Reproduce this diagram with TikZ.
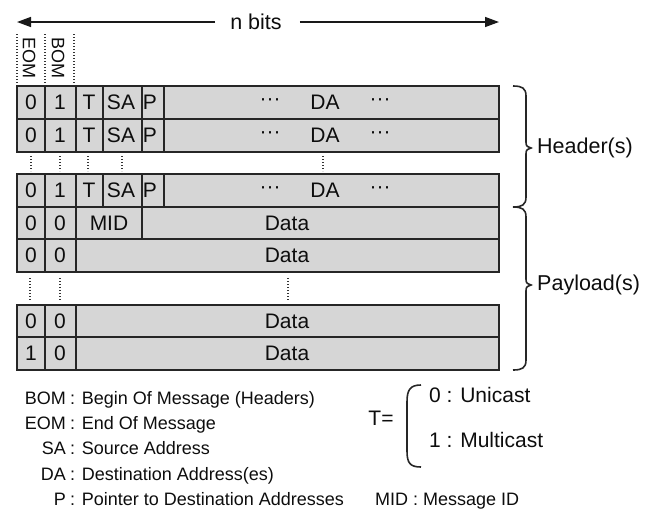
\documentclass[tikz,border=0pt]{standalone}
\usepackage{fontspec}
\setmainfont{Liberation Sans}
\usetikzlibrary{arrows.meta}
\begin{document}
\begin{tikzpicture}[x=1pt,y=-1pt,
  rowbox/.style={draw=black!85,fill=black!16,line width=1.6pt},
  divider/.style={draw=black!85,line width=1.6pt},
  dotline/.style={draw=black!80,line width=1.7pt,dash pattern=on 1.4pt off 1.6pt},
  cell/.style={inner sep=0pt,font=\fontsize{21}{24}\selectfont,text=black!95},
  bitlbl/.style={inner sep=0pt,font=\fontsize{18}{20}\selectfont,rotate=-90,text=black!95},
  side/.style={inner sep=0pt,anchor=west,font=\fontsize{21.5}{24}\selectfont,text=black!95},
  legk/.style={inner sep=0pt,anchor=mid east,font=\fontsize{18}{21}\selectfont,text=black!95},
  legv/.style={inner sep=0pt,anchor=mid west,font=\fontsize{18}{21}\selectfont,text=black!95},
  tval/.style={inner sep=0pt,anchor=mid west,font=\fontsize{21}{24}\selectfont,text=black!95},
  bracket/.style={draw=black!85,line width=1.6pt},
  arr/.style={draw=black!90,line width=1.4pt,-{Triangle[length=14pt,width=10pt]}},
]
\useasboundingbox (0,0) rectangle (655,515);

% n bits arrow
\coordinate (aL) at (17,22);
\coordinate (aR) at (499,22);
\node[cell,font=\fontsize{21.5}{24}\selectfont] (nb) at (256,22) {n bits};
\draw[arr] ([xshift=-15pt]nb.west) -- (aL);
\draw[arr] ([xshift=18pt]nb.east) -- (aR);

% EOM / BOM labels
\draw[dotline] (17,34) -- (17,85);
\draw[dotline] (45,34) -- (45,85);
\draw[dotline] (74,34) -- (74,85);
\node[bitlbl] (eom) at (29,58) {EOM};
\node[bitlbl] (bom) at (58,58) {BOM};

% header rows
\foreach \t/\b in {86/119,119/152,174/207}{
  \draw[rowbox] (17,\t) rectangle (499,\b);
  \foreach \x in {45,76,103,142,164}{\draw[divider] (\x,\t) -- (\x,\b);}
}
% payload rows
\draw[rowbox] (17,207) rectangle (499,239);
\foreach \x in {45,76,142}{\draw[divider] (\x,207) -- (\x,239);}
\foreach \t/\b in {239/272,305/337,337/370}{
  \draw[rowbox] (17,\t) rectangle (499,\b);
  \foreach \x in {45,76}{\draw[divider] (\x,\t) -- (\x,\b);}
}

% header texts
\foreach \c/\n in {102.5/a,135.5/b,190.5/c}{
  \node[cell] (e\n) at (31,\c) {0};
  \node[cell] (b\n) at (60,\c) {1};
  \node[cell] (t\n) at (89,\c) {T};
  \node[cell] (sa\n) at (121,\c) {SA};
  \node[cell] (p\n) at (150,\c) {P};
  \node[cell] (dl\n) at (270,\c) {···};
  \node[cell] (da\n) at (325,\c) {DA};
  \node[cell] (dr\n) at (380,\c) {···};
}
% payload texts
\node[cell] (e4) at (31,223) {0};
\node[cell] (b4) at (60,223) {0};
\node[cell] (mid) at (109,223) {MID};
\node[cell] (d4) at (287,223) {Data};
\node[cell] (e5) at (31,255.5) {0};
\node[cell] (b5) at (60,255.5) {0};
\node[cell] (d5) at (287,255.5) {Data};
\node[cell] (e6) at (31,321) {0};
\node[cell] (b6) at (60,321) {0};
\node[cell] (d6) at (287,321) {Data};
\node[cell] (e7) at (31,353.5) {1};
\node[cell] (b7) at (60,353.5) {0};
\node[cell] (d7) at (287,353.5) {Data};

% continuation dots
\foreach \x in {31,60,88,122,323}{\draw[dotline] (\x,156) -- (\x,171);}
\foreach \x in {30,60,288}{\draw[dotline] (\x,278) -- (\x,301);}

% braces
\draw[bracket] (513,86) .. controls (522,86) and (526,88) .. (526,96) -- (526,141)
  .. controls (526,146) .. (531,148) .. controls (526,150) .. (526,155) -- (526,197)
  .. controls (526,205) and (522,207) .. (513,207);
\draw[bracket] (513,207) .. controls (522,207) and (526,209) .. (526,217) -- (526,278)
  .. controls (526,283) .. (531,285) .. controls (526,287) .. (526,292) -- (526,360)
  .. controls (526,368) and (522,370) .. (513,370);
\node[side] (hdr) at (537,148) {Header(s)};
\node[side] (pay) at (537,285) {Payload(s)};

% legend
\node[legk] (k1) at (66,402) {BOM};
\node[legv] (v1) at (70,402) {: Begin Of Message (Headers)};
\node[legk] (k2) at (66,427) {EOM};
\node[legv] (v2) at (70,427) {: End Of Message};
\node[legk] (k3) at (66,452) {SA};
\node[legv] (v3) at (70,452) {: Source Address};
\node[legk] (k4) at (66,478) {DA};
\node[legv] (v4) at (70,478) {: Destination Address(es)};
\node[legk] (k5) at (66,503) {P};
\node[legv] (v5) at (70,503) {: Pointer to Destination Addresses};
\node[legv] (mdl) at (375,503) {MID : Message ID};

% T= definition
\node[tval,anchor=mid] (teq) at (381,423) {T=};
\draw[bracket] (421,385) .. controls (410,385) and (407,390) .. (407,402) -- (407,451)
  .. controls (407,463) and (410,467) .. (421,467);
\node[tval] (uni) at (429,400) {0 : Unicast};
\node[tval] (mul) at (429,445) {1 : Multicast};
\end{tikzpicture}
\end{document}
